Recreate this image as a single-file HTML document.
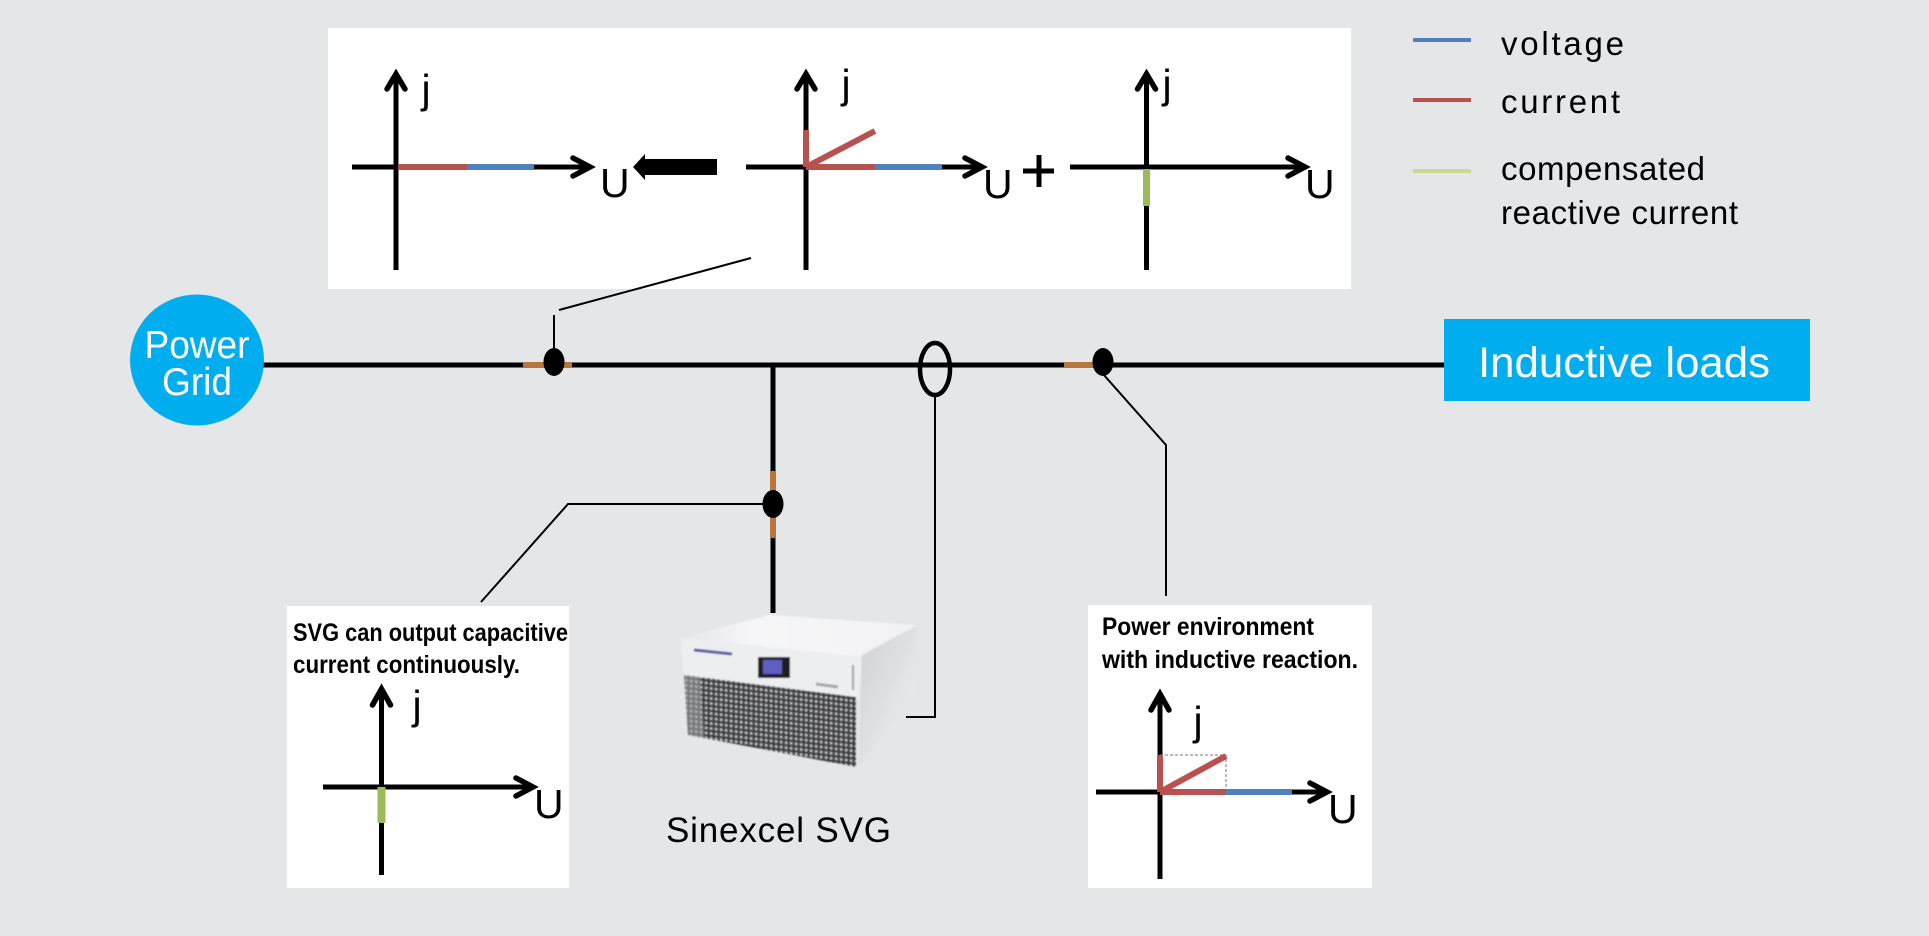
<!DOCTYPE html>
<html><head><meta charset="utf-8"><style>
html,body{margin:0;padding:0;background:#e5e6e8}
svg{display:block}
text{font-family:"Liberation Sans",sans-serif}
.g{font-size:41px;fill:#000}
.ax{stroke:#000;fill:none;stroke-linecap:butt}
.ah{stroke:#000;fill:none;stroke-width:5.500;stroke-linecap:round;stroke-linejoin:miter}
.leg{font-size:33px;fill:#000}
.b{font-size:25px;font-weight:bold;fill:#000}
</style></head><body>
<svg width="1929" height="936" viewBox="0 0 1929 936" xmlns="http://www.w3.org/2000/svg">
<defs>
<pattern id="gr" width="5" height="5" patternUnits="userSpaceOnUse" patternTransform="skewY(7)">
<rect width="5" height="5" fill="#3c3e41"/><rect x="0" y="0" width="2.400" height="2.400" fill="#c9cacc"/>
</pattern>
<linearGradient id="rf" x1="0" y1="0" x2="1" y2="1"><stop offset="0" stop-color="#cfd0d4"/><stop offset=".6" stop-color="#e3e4e6"/><stop offset="1" stop-color="#f2f2f4"/></linearGradient>
<linearGradient id="tp" x1="0" y1="0" x2="1" y2="0"><stop offset="0" stop-color="#e4e5e8"/><stop offset=".3" stop-color="#f6f6f8"/><stop offset="1" stop-color="#f2f2f4"/></linearGradient>
<filter id="bl" x="-5%" y="-5%" width="110%" height="110%"><feGaussianBlur stdDeviation=".7"/></filter>
</defs>
<rect width="1929" height="936" fill="#e5e6e8"/>

<!-- top panel -->
<rect x="328" y="28" width="1023" height="261" fill="#fff"/>
<!-- chart 1 -->
<path class="ax" stroke-width="5" d="M352 167H590"/>
<path class="ax" stroke-width="5" d="M396 74V270"/>
<path d="M398 167H467" stroke="#b9524f" stroke-width="6"/>
<path d="M467 167H534" stroke="#4f81bd" stroke-width="6"/>
<path class="ah" d="M573 158L590 167L573 176"/>
<path class="ah" d="M387 89L396 74L405 89"/>
<text class="g" x="426" y="103" text-anchor="middle">j</text>
<text class="g" x="600" y="197">U</text>
<!-- block arrow -->
<path d="M633 167L645 154V159H717V175H645V180Z" fill="#000"/>
<!-- chart 2 -->
<path class="ax" stroke-width="5" d="M746 167H982"/>
<path class="ax" stroke-width="5" d="M806 74V270"/>
<path d="M806 130V167" stroke="#b9524f" stroke-width="6"/>
<path d="M806 167L875 131" stroke="#b9524f" stroke-width="6"/>
<path d="M806 167H875" stroke="#b9524f" stroke-width="6"/>
<path d="M875 167H942" stroke="#4f81bd" stroke-width="6"/>
<path class="ah" d="M965 158L982 167L965 176"/>
<path class="ah" d="M797 89L806 74L815 89"/>
<text class="g" x="846" y="98" text-anchor="middle">j</text>
<text class="g" x="983" y="198">U</text>
<!-- plus -->
<path d="M1023 171H1054M1039 155V187" stroke="#000" stroke-width="5" fill="none"/>
<!-- chart 3 -->
<path class="ax" stroke-width="5" d="M1070 167H1305"/>
<path class="ax" stroke-width="5" d="M1146.500 74V270"/>
<path d="M1146.500 169V206" stroke="#9bbb59" stroke-width="7"/>
<path class="ah" d="M1288 158L1305 167L1288 176"/>
<path class="ah" d="M1137.500 89L1146.500 74L1155.500 89"/>
<text class="g" x="1167" y="98" text-anchor="middle">j</text>
<text class="g" x="1305" y="198">U</text>

<!-- legend -->
<path d="M1413 40H1471" stroke="#4f81bd" stroke-width="4"/>
<path d="M1413 100H1471" stroke="#b9524f" stroke-width="4"/>
<path d="M1413 171H1471" stroke="#c8da93" stroke-width="4"/>
<text class="leg" x="1501" y="55" textLength="123" lengthAdjust="spacing">voltage</text>
<text class="leg" x="1501" y="113" textLength="119" lengthAdjust="spacing">current</text>
<text class="leg" x="1501" y="180" textLength="204" lengthAdjust="spacing">compensated</text>
<text class="leg" x="1501" y="224" textLength="237" lengthAdjust="spacing">reactive current</text>

<!-- main line -->
<path d="M262 365H1448" stroke="#000" stroke-width="5" fill="none"/>
<path d="M773 365V613" stroke="#000" stroke-width="5" fill="none"/>
<!-- power grid -->
<ellipse cx="197" cy="360" rx="67" ry="65.500" fill="#00aeef"/>
<text x="197" y="358" font-size="39" fill="#fff" text-anchor="middle" textLength="105" lengthAdjust="spacingAndGlyphs">Power</text>
<text x="197" y="395" font-size="39" fill="#fff" text-anchor="middle" textLength="70" lengthAdjust="spacingAndGlyphs">Grid</text>
<!-- inductive loads -->
<rect x="1444" y="319" width="366" height="82" fill="#00aeef"/>
<text x="1478" y="377" font-size="43" fill="#fff" textLength="292" lengthAdjust="spacingAndGlyphs">Inductive loads</text>

<!-- sensors -->
<path d="M523 365H572" stroke="#b9763c" stroke-width="6"/>
<ellipse cx="554" cy="362" rx="10.500" ry="14" fill="#000"/>
<path d="M1064 365H1098" stroke="#b9763c" stroke-width="6"/>
<ellipse cx="1103" cy="362" rx="10.500" ry="14" fill="#000"/>
<path d="M773 471V538" stroke="#b9763c" stroke-width="6"/>
<ellipse cx="773" cy="504" rx="10.500" ry="14" fill="#000"/>
<ellipse cx="935" cy="369" rx="15" ry="26" fill="none" stroke="#000" stroke-width="4.500"/>

<!-- leaders -->
<path d="M554 315V350" stroke="#000" stroke-width="2" fill="none"/>
<path d="M559 310L751 258" stroke="#000" stroke-width="2" fill="none"/>
<path d="M765 504H568L481 602" stroke="#000" stroke-width="2" fill="none"/>
<path d="M935 396V717H906" stroke="#000" stroke-width="2" fill="none"/>
<path d="M1103 374L1166 445V596" stroke="#000" stroke-width="2" fill="none"/>

<!-- device -->
<g filter="url(#bl)">
<path d="M680 638L770 615L917 625L862 657Z" fill="url(#tp)"/>
<path d="M680 638L862 657L858 700L684 675Z" fill="#edeef0"/>
<path d="M862 655L917 625L917 690L858 767Z" fill="url(#rf)"/>
<path d="M684 675L856 697L856 767L688 735Z" fill="url(#gr)"/>
<path d="M684 675L700 677L704 738L688 735Z" fill="#a9aaad" opacity=".55"/>
<rect x="758" y="657" width="32" height="21" fill="#1b1b22"/>
<rect x="763" y="660" width="19" height="14" fill="#5f5fc4"/>
<path d="M694 650L732 654" stroke="#5a5aa8" stroke-width="3"/>
<path d="M816 684L838 687" stroke="#a6a7ac" stroke-width="3"/>
<path d="M853 665V690" stroke="#9a9ba0" stroke-width="2"/>
</g>
<text x="666" y="842" font-size="35" fill="#000" textLength="225" lengthAdjust="spacing">Sinexcel SVG</text>

<!-- left panel -->
<rect x="287" y="606" width="282" height="282" fill="#fff"/>
<text class="b" x="293" y="641" textLength="275" lengthAdjust="spacingAndGlyphs">SVG can output capacitive</text>
<text class="b" x="293" y="673" textLength="227" lengthAdjust="spacingAndGlyphs">current continuously.</text>
<path class="ax" stroke-width="5" d="M323 787H533"/>
<path class="ax" stroke-width="5" d="M381.500 689V875"/>
<path d="M381.500 787V823" stroke="#9bbb59" stroke-width="8"/>
<path class="ah" d="M516 778L533 787L516 796"/>
<path class="ah" d="M372.500 705L381.500 689L390.500 705"/>
<text class="g" x="417" y="719" text-anchor="middle">j</text>
<text class="g" x="534" y="818">U</text>

<!-- right panel -->
<rect x="1088" y="605" width="284" height="283" fill="#fff"/>
<text class="b" x="1102" y="635" textLength="212" lengthAdjust="spacingAndGlyphs">Power environment</text>
<text class="b" x="1102" y="668" textLength="256" lengthAdjust="spacingAndGlyphs">with inductive reaction.</text>
<path class="ax" stroke-width="5" d="M1096 792H1327"/>
<path class="ax" stroke-width="5" d="M1160 694V879"/>
<path d="M1160 755H1226V792" stroke="#777" stroke-width="1" stroke-dasharray="3 2" fill="none"/>
<path d="M1160 755V792" stroke="#b9524f" stroke-width="6"/>
<path d="M1160 792L1226 756" stroke="#b9524f" stroke-width="6"/>
<path d="M1160 792H1226" stroke="#b9524f" stroke-width="6"/>
<path d="M1226 792H1292" stroke="#4f81bd" stroke-width="6"/>
<path class="ah" d="M1310 783L1327 792L1310 801"/>
<path class="ah" d="M1151 710L1160 694L1169 710"/>
<text class="g" x="1198" y="735" text-anchor="middle">j</text>
<text class="g" x="1328" y="823">U</text>
</svg>
</body></html>
